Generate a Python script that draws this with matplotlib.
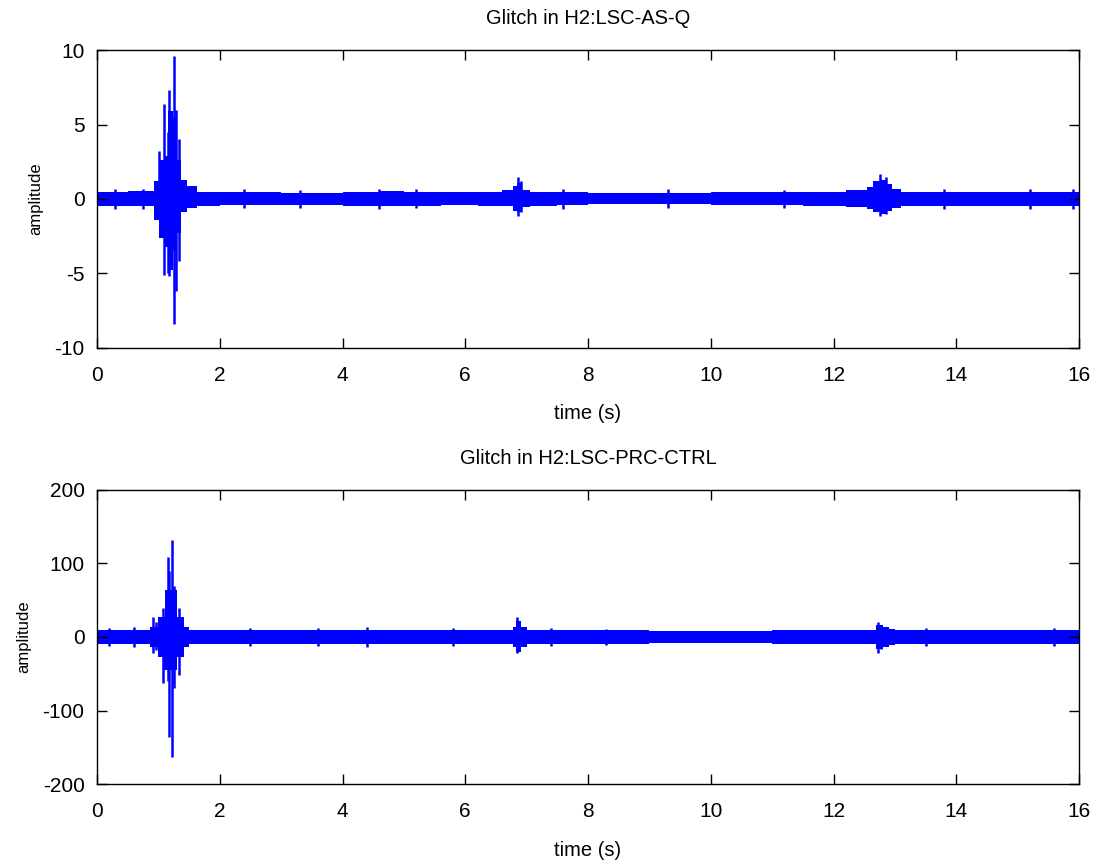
import numpy as np
import matplotlib
matplotlib.use('Agg')
import matplotlib.pyplot as plt

plt.rcParams['font.family'] = ['Liberation Sans', 'DejaVu Sans']
plt.rcParams['axes.unicode_minus'] = False

# ---- H2:LSC-AS-Q : background band (step envelope) ----
asq_t = [0.0, 0.5, 0.93, 1.01, 1.10, 1.15, 1.24, 1.30, 1.37, 1.47, 1.63, 2.0, 3.0,
         4.0, 4.6, 5.0, 5.6, 6.2, 6.6, 6.78, 6.84, 6.92, 7.05, 7.5, 8.0, 9.0, 10.0,
         10.8, 11.5, 12.2, 12.55, 12.65, 12.75, 12.85, 12.95, 13.1, 13.4, 14.0, 15.0, 16.0]
asq_hi = [0.5, 0.55, 1.2, 2.6, 2.9, 5.9, 5.5, 2.6, 1.3, 0.9, 0.5, 0.45, 0.4,
          0.5, 0.55, 0.5, 0.45, 0.5, 0.6, 0.9, 1.1, 0.6, 0.5, 0.45, 0.4, 0.4, 0.45,
          0.45, 0.5, 0.6, 0.8, 1.2, 1.3, 1.0, 0.7, 0.5, 0.5, 0.5, 0.5, 0.5]
asq_lo = [-0.45, -0.5, -1.4, -2.6, -3.2, -4.8, -3.5, -2.3, -0.9, -0.6, -0.45, -0.4, -0.4,
          -0.45, -0.5, -0.45, -0.4, -0.45, -0.5, -0.8, -0.9, -0.55, -0.45, -0.4, -0.35, -0.35, -0.4,
          -0.4, -0.45, -0.55, -0.7, -0.9, -1.0, -0.8, -0.6, -0.45, -0.45, -0.45, -0.45, -0.45]
# individual strokes (time, top, bottom)
asq_spk_t = [1.01, 1.09, 1.15, 1.17, 1.20, 1.255, 1.28, 1.34, 6.86, 6.90, 12.76, 12.85,
             0.3, 0.75, 2.4, 3.3, 4.6, 5.2, 7.6, 9.3, 11.2, 13.8, 15.2, 15.9]
asq_spk_hi = [3.2, 6.35, 4.5, 7.3, 4.8, 9.6, 6.0, 4.05, 1.5, 1.2, 1.7, 1.5,
              0.7, 0.7, 0.65, 0.6, 0.7, 0.65, 0.7, 0.65, 0.6, 0.7, 0.7, 0.7]
asq_spk_lo = [-1.0, -5.1, -5.0, -5.2, -4.6, -8.4, -6.2, -4.2, -1.15, -0.9, -1.15, -1.0,
              -0.7, -0.65, -0.6, -0.6, -0.7, -0.6, -0.65, -0.6, -0.6, -0.65, -0.7, -0.7]

# ---- H2:LSC-PRC-CTRL ----
prc_t = [0.0, 0.5, 0.86, 1.00, 1.08, 1.11, 1.15, 1.30, 1.41, 1.5, 2.0, 3.0, 4.0, 5.0,
         5.5, 6.0, 6.6, 6.78, 6.83, 6.9, 7.0, 7.5, 8.0, 9.0, 10.0, 11.0, 12.0, 12.6,
         12.7, 12.8, 12.9, 13.0, 13.5, 14.0, 15.0, 16.0]
prc_hi = [9, 10, 14, 27, 27, 64, 64, 27, 14, 10, 9, 10, 9, 10,
          9, 10, 10, 14, 22, 14, 10, 10, 9, 8, 8, 9, 9, 10,
          16, 14, 11, 10, 9, 10, 9, 9]
prc_lo = [-9, -10, -14, -27, -45, -45, -45, -27, -14, -10, -9, -10, -9, -10,
          -9, -10, -10, -14, -20, -14, -10, -10, -9, -8, -8, -9, -9, -10,
          -16, -14, -11, -10, -9, -10, -9, -9]
prc_spk_t = [0.92, 0.96, 1.08, 1.15, 1.18, 1.22, 1.26, 1.34, 6.84, 6.87, 12.73, 12.78,
             0.2, 0.6, 2.5, 3.6, 4.4, 5.8, 7.4, 8.3, 13.5, 15.6]
prc_spk_hi = [27, 20, 40, 109, 90, 132, 70, 40, 27, 18, 20, 15,
              12, 13, 12, 12, 13, 12, 12, 11, 12, 12]
prc_spk_lo = [-22, -18, -63, -60, -136, -163, -70, -52, -22, -15, -22, -16,
              -12, -13, -12, -12, -13, -12, -12, -11, -12, -12]

x_ticks = [0, 2, 4, 6, 8, 10, 12, 14, 16]
asq_yticks = [-10, -5, 0, 5, 10]
prc_yticks = [-200, -100, 0, 100, 200]


def draw_panel(ax, t, hi, lo, st, shi, slo, yticks, title):
    ax.fill_between(t, lo, hi, step='post', color='#0000ff', lw=0)
    ax.vlines(st, slo, shi, color='#0000ff', lw=1.8)
    ax.set_xlim(0, 16)
    ax.set_ylim(yticks[0], yticks[-1])
    ax.set_xticks(x_ticks)
    ax.set_yticks(yticks)
    ax.tick_params(direction='in', length=7, width=1, top=True, right=True,
                   labelsize=15, pad=9)
    ax.tick_params(axis='x', pad=13)
    for s in ax.spines.values():
        s.set_linewidth(1.0)
    ax.set_title(title, fontsize=14.5, pad=19)
    ax.set_xlabel('time (s)', fontsize=14.5, labelpad=14)
    ax.set_ylabel('amplitude', fontsize=12, labelpad=8)


fig = plt.figure(figsize=(10.95, 8.65), dpi=100)
ax1 = fig.add_axes([0.0886, 0.598, 0.8968, 0.344])
ax2 = fig.add_axes([0.0886, 0.0936, 0.8968, 0.340])
draw_panel(ax1, asq_t, asq_hi, asq_lo, asq_spk_t, asq_spk_hi, asq_spk_lo,
           asq_yticks, 'Glitch in H2:LSC-AS-Q')
draw_panel(ax2, prc_t, prc_hi, prc_lo, prc_spk_t, prc_spk_hi, prc_spk_lo,
           prc_yticks, 'Glitch in H2:LSC-PRC-CTRL')
fig.savefig('out.png', dpi=100)
